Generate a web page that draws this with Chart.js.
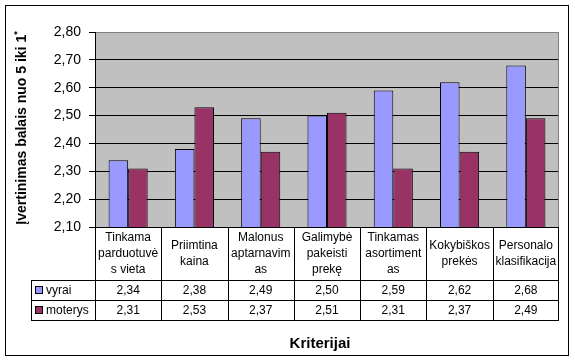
<!DOCTYPE html>
<html>
<head>
<meta charset="utf-8">
<script src="https://cdn.jsdelivr.net/npm/chart.js@4.4.1/dist/chart.umd.min.js"></script>
<style>
  body { margin: 0; background: #fff; }
  #wrap { width: 575px; height: 361px; }
</style>
</head>
<body>
<div id="wrap"><canvas id="chart" width="575" height="361"></canvas></div>
<script>
// data
const categories = [
    ['Tinkama', 'parduotuvė', 's vieta'],
    ['Priimtina', 'kaina'],
    ['Malonus', 'aptarnavim', 'as'],
    ['Galimybė', 'pakeisti', 'prekę'],
    ['Tinkamas', 'asortiment', 'as'],
    ['Kokybiškos', 'prekės'],
    ['Personalo', 'klasifikacija']
];
const seriesNames = ['vyrai', 'moterys'];
const vyrai = [2.34, 2.38, 2.49, 2.50, 2.59, 2.62, 2.68];
const moterys = [2.31, 2.53, 2.37, 2.51, 2.31, 2.37, 2.49];
const yMin = 2.1, yMax = 2.8, yStep = 0.1;
const yTitle = 'Įvertinimas balais nuo 5 iki 1';
const xTitle = 'Kriterijai';

const colors = ['#9999FF', '#993366'];
const fmt = v => v.toFixed(2).replace('.', ',');

const tablePlugin = {
    id: 'excelTable',
    beforeDraw: (chart) => {
        const ctx = chart.ctx, a = chart.chartArea;
        ctx.save();
        ctx.fillStyle = '#fff';
        ctx.fillRect(0, 0, chart.width, chart.height);
        ctx.fillStyle = '#C0C0C0';
        ctx.fillRect(a.left, a.top, a.right - a.left, a.bottom - a.top);
        ctx.restore();
    },
    afterDraw: (chart) => {
        const ctx = chart.ctx, a = chart.chartArea;
        const n = categories.length;
        const colW = (a.right - a.left) / n;
        const rowTop = a.bottom, hdrBottom = 280, r1 = 300, r2 = 320, legLeft = 31;
        const px = v => Math.round(v) + 0.5;
        ctx.save();
        ctx.lineWidth = 1;

        // plot area frame (gray top + right)
        ctx.strokeStyle = '#808080';
        ctx.beginPath();
        ctx.moveTo(a.left + 1, px(a.top)); ctx.lineTo(a.right, px(a.top));
        ctx.moveTo(px(a.right - 1), a.top); ctx.lineTo(px(a.right - 1), a.bottom);
        ctx.stroke();

        // table grid
        ctx.strokeStyle = '#000';
        ctx.beginPath();
        [hdrBottom, r1, r2].forEach(y => {
            ctx.moveTo(legLeft, px(y)); ctx.lineTo(a.right, px(y));
        });
        for (let i = 0; i <= n; i++) {
            const x = px(a.left + i * colW - (i === n ? 1 : 0));
            ctx.moveTo(x, rowTop); ctx.lineTo(x, px(r2));
        }
        ctx.moveTo(px(legLeft), px(hdrBottom)); ctx.lineTo(px(legLeft), px(r2));
        ctx.stroke();

        // header texts
        ctx.fillStyle = '#000';
        ctx.font = "12px 'Liberation Sans', Arial, sans-serif";
        ctx.textAlign = 'center';
        ctx.textBaseline = 'middle';
        const hdrMid = (rowTop + hdrBottom) / 2 + 0.5;
        categories.forEach((lines, i) => {
            const cx = chart.scales.x.getPixelForValue(i);
            lines.forEach((t, j) => {
                ctx.fillText(t, cx, hdrMid + (j - (lines.length - 1) / 2) * 16);
            });
        });

        // values rows
        [vyrai, moterys].forEach((data, s) => {
            const cy = (s === 0 ? (hdrBottom + r1) : (r1 + r2)) / 2 + 1;
            data.forEach((v, i) => {
                ctx.fillText(fmt(v), chart.scales.x.getPixelForValue(i), cy);
            });
            // legend keys
            ctx.fillStyle = colors[s];
            ctx.fillRect(35, cy - 4, 7, 7);
            ctx.strokeRect(35.5, cy - 4.5, 7, 7);
            ctx.fillStyle = '#000';
            ctx.textAlign = 'left';
            ctx.fillText(seriesNames[s], 46, cy);
            ctx.textAlign = 'center';
        });

        // axis titles
        ctx.font = "bold 15px 'Liberation Sans', Arial, sans-serif";
        ctx.textBaseline = 'alphabetic';
        ctx.fillText(xTitle, 320, 348);

        ctx.save();
        ctx.translate(26, 128);
        ctx.rotate(-Math.PI / 2);
        ctx.font = "bold 14px 'Liberation Sans', Arial, sans-serif";
        const w = ctx.measureText(yTitle).width;
        ctx.font = "bold 9px 'Liberation Sans', Arial, sans-serif";
        const ws = ctx.measureText('*').width;
        const start = -(w + ws) / 2;
        ctx.textAlign = 'left';
        ctx.font = "bold 14px 'Liberation Sans', Arial, sans-serif";
        ctx.fillText(yTitle, start, 0);
        ctx.font = "bold 9px 'Liberation Sans', Arial, sans-serif";
        ctx.fillText('*', start + w, -6);
        ctx.restore();

        // outer frame
        ctx.strokeStyle = '#000';
        ctx.strokeRect(5.5, 5.5, 563, 350);
        ctx.restore();
    }
};

const chart = new Chart(document.getElementById('chart'), {
    type: 'bar',
    data: {
        labels: categories.map(c => c.join(' ')),
        datasets: [
            { label: seriesNames[0], data: vyrai, backgroundColor: colors[0], borderColor: '#000', borderWidth: 1 },
            { label: seriesNames[1], data: moterys, backgroundColor: colors[1], borderColor: '#000', borderWidth: 1 }
        ]
    },
    options: {
        responsive: false,
        animation: false,
        devicePixelRatio: 1,
        layout: { padding: { left: 0, top: 32, right: 16, bottom: 134 } },
        datasets: { bar: { categoryPercentage: 0.59, barPercentage: 1.0 } },
        plugins: {
            legend: { display: false },
            title: { display: false },
            tooltip: { enabled: false }
        },
        scales: {
            x: { display: false },
            y: {
                min: yMin,
                max: yMax,
                afterFit: (scale) => { scale.width = 95; },
                ticks: {
                    stepSize: yStep,
                    color: '#000',
                    padding: 8,
                    font: { family: "'Liberation Sans', Arial, sans-serif", size: 14 },
                    callback: (v) => fmt(v)
                },
                grid: { color: '#000', lineWidth: 1, tickLength: 6 },
                border: { color: '#000', width: 1 }
            }
        }
    },
    plugins: [tablePlugin]
});
</script>
</body>
</html>
